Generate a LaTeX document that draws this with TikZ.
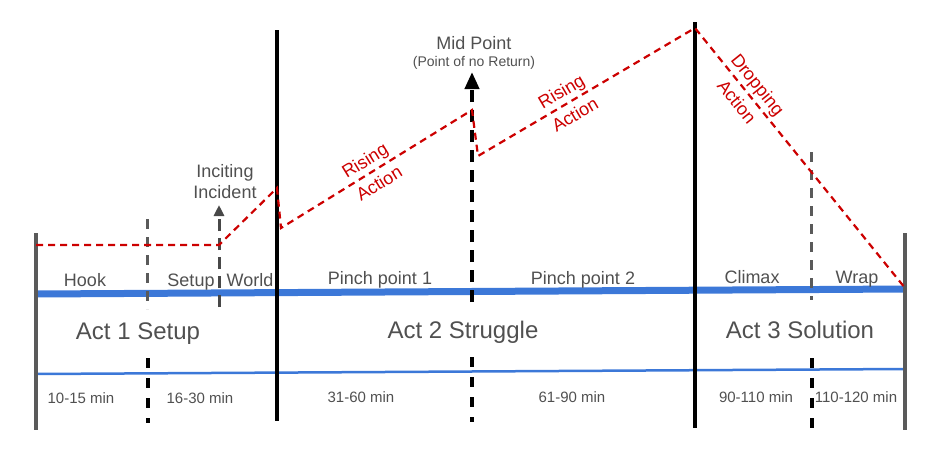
\documentclass[tikz,border=0pt]{standalone}
\usepackage{fontspec}
\setmainfont{Liberation Sans}
\usetikzlibrary{arrows.meta}
\definecolor{bandblue}{HTML}{3C78D8}
\definecolor{plotred}{HTML}{CC0000}
\definecolor{textgray}{HTML}{505050}
\definecolor{bargray}{HTML}{5A5A5A}

\begin{document}
\begin{tikzpicture}[x=1pt,y=-1pt,
  lbl/.style={text=textgray,font=\fontsize{18}{21}\selectfont,inner sep=0pt,anchor=base},
  act/.style={text=textgray,font=\fontsize{24}{28}\selectfont,inner sep=0pt,anchor=base},
  time/.style={text=textgray,font=\fontsize{15}{18}\selectfont,inner sep=0pt,anchor=base},
  plot/.style={plotred,line width=2.2pt,dash pattern=on 7pt off 5pt},
  plotlbl/.style={text=plotred,font=\fontsize{18}{27}\selectfont,align=center,sloped,inner sep=0pt},
  markup/.style={bargray,line width=3pt,dash pattern=on 10pt off 8pt},
  marklow/.style={black,line width=3.5pt,dash pattern=on 10pt off 10pt},
  actline/.style={black,line width=4.5pt},
  sidebar/.style={bargray,line width=4pt}]
  \useasboundingbox (0,0) rectangle (949,453);
  %
  \draw[bandblue,line width=7pt] (36,294) -- (905,289);
  \draw[bandblue,line width=2.5pt] (36,374) -- (905,369);
  %
  \coordinate (lefttop) at (36,233);  \coordinate (leftbot) at (36,430);
  \coordinate (righttop) at (905,233); \coordinate (rightbot) at (905,430);
  \draw[sidebar] (lefttop) -- (leftbot);
  \draw[sidebar] (righttop) -- (rightbot);
  %
  \coordinate (act2top) at (277,30);  \coordinate (act2bot) at (277,421);
  \coordinate (act3top) at (695,22);  \coordinate (act3bot) at (695,428);
  \draw[actline] (act2top) -- (act2bot);
  \draw[actline] (act3top) -- (act3bot);
  %
  \coordinate (hooktop) at (147,219);  \coordinate (hookbot) at (147,309);
  \coordinate (hooklow) at (148,358);  \coordinate (hookend) at (148,423);
  \draw[markup] (hooktop) -- (hookbot);
  \draw[marklow] (hooklow) -- (hookend);
  \coordinate (wraptop) at (811,152);  \coordinate (wrapbot) at (811,300);
  \coordinate (wraplow) at (812,358);  \coordinate (wrapend) at (812,428);
  \draw[markup] (wraptop) -- (wrapbot);
  \draw[marklow] (wraplow) -- (wrapend);
  \coordinate (midlow) at (472,357);  \coordinate (midend) at (472,422);
  \draw[marklow] (midlow) -- (midend);
  %
  \node[lbl] (inciting) at (225,177) {Inciting};
  \node[lbl] (incident) at (225,198) {Incident};
  \coordinate (incfoot) at (219,307);
  \draw[markup,bargray!80!black,dash pattern=on 12pt off 7pt,
    -{Triangle[length=11pt,width=10pt]}] (incfoot) -- (219,205);
  %
  \node[lbl] (midpoint) at (474,49) {Mid Point};
  \node[text=textgray,font=\fontsize{14}{16}\selectfont,inner sep=0pt,anchor=base]
    (noreturn) at (474,66) {(Point of no Return)};
  \coordinate (midfoot) at (472,302);
  \draw[black,line width=4pt,dash pattern=on 12pt off 8pt,
    -{Triangle[length=17pt,width=14pt]}] (midfoot) -- (472,72);
  %
  \coordinate (r0) at (36,245);  \coordinate (r1) at (219,245);
  \coordinate (r2) at (277,188); \coordinate (r3) at (281,228);
  \coordinate (r4) at (472,110); \coordinate (r5) at (478,156);
  \coordinate (r6) at (695,28);  \coordinate (r7) at (905,288);
  \draw[plot] (r0) -- (r1) -- (r2) -- (r3) -- (r4) -- (r5) -- (r6) -- (r7);
  \path (r3) -- node[plotlbl,pos=0.476] (rise1) {Rising\\Action} (r4);
  \path (r5) -- node[plotlbl,pos=0.415] (rise2) {Rising\\Action} (r6);
  \path (r6) -- node[plotlbl,pos=0.25] (drop) {Dropping\\Action} (r7);
  %
  \node[lbl] (hook) at (85,286) {Hook};
  \node[lbl] (setup) at (191,286) {Setup};
  \node[lbl] (world) at (250,286) {World};
  \node[lbl] (pinch1) at (380,284) {Pinch point 1};
  \node[lbl] (pinch2) at (583,284) {Pinch point 2};
  \node[lbl] (climax) at (752,283) {Climax};
  \node[lbl] (wrap) at (857,283) {Wrap};
  %
  \node[act] (act1) at (138,339) {Act 1 Setup};
  \node[act] (act2) at (463,338) {Act 2 Struggle};
  \node[act] (act3) at (800,338) {Act 3 Solution};
  %
  \node[time] (t1) at (81,403) {10-15 min};
  \node[time] (t2) at (200,403) {16-30 min};
  \node[time] (t3) at (361,402) {31-60 min};
  \node[time] (t4) at (572,402) {61-90 min};
  \node[time] (t5) at (756,402) {90-110 min};
  \node[time] (t6) at (856,402) {110-120 min};
\end{tikzpicture}
\end{document}
